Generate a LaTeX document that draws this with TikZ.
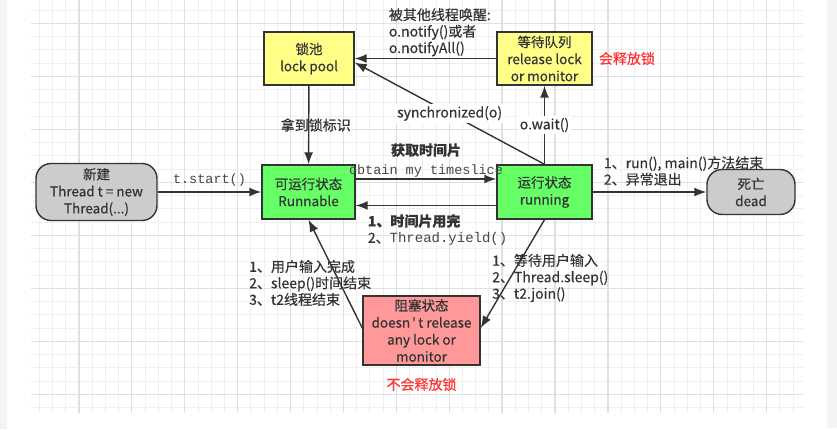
\documentclass[tikz,border=0pt]{standalone}
\usepackage{fontspec}
\setmainfont{Noto Sans CJK SC}[FakeBold=0.4]
\setmonofont{Liberation Mono}
\usetikzlibrary{arrows.meta,positioning}
\definecolor{inkgray}{RGB}{51,51,51}
\definecolor{codegray}{RGB}{70,70,70}
\definecolor{poolyellow}{RGB}{255,255,136}
\definecolor{rungreen}{RGB}{102,255,102}
\definecolor{blockred}{RGB}{255,153,153}
\definecolor{endgray}{RGB}{204,204,204}
\definecolor{notered}{RGB}{255,51,51}
\definecolor{stripgray}{RGB}{243,244,246}

\begin{document}
\begin{tikzpicture}[
  x=1pt, y=1pt,
  state/.style={
    rectangle, draw=inkgray, line width=1.4pt, text=inkgray,
    align=center, inner sep=2pt,
    minimum height=53pt,
    font=\fontsize{13.5}{17}\selectfont
  },
  poolbox/.style={state, fill=poolyellow},
  runbox/.style={state, fill=rungreen, minimum height=54pt},
  endbox/.style={state, fill=endgray, rounded corners=15pt},
  flow/.style={-{Latex[length=12pt,width=9pt]}, line width=1.4pt, draw=inkgray},
  note/.style={align=left, text=inkgray, inner sep=0pt,
    font=\fontsize{14}{16.5}\selectfont},
  codenote/.style={note, text=codegray, font=\fontsize{13.5}{17}\selectfont\ttfamily},
  rednote/.style={note, text=notered},
  minorgrid/.style={draw={rgb,255:red,239;green,239;blue,239}, line width=0.8pt},
  majorgrid/.style={draw={rgb,255:red,224;green,224;blue,224}, line width=1.3pt}
]
  % page and grid
  \useasboundingbox (0,0) rectangle (837,429);
  \fill[white] (0,0) rectangle (837,429);
  \fill[stripgray] (0,0) rectangle (7,429);
  \fill[stripgray] (827,1) rectangle (837,429);
  \begin{scope}
    \clip (31,17) rectangle (803,429);
    \begin{scope}[shift={(26,-18.3)}]
      \draw[minorgrid] (0,0) grid[xstep=13.225, ystep=13.25] (800,470);
      \draw[majorgrid] (0,0) grid[xstep=52.9, ystep=53] (800,470);
    \end{scope}
  \end{scope}

  % states
  \node[poolbox, minimum width=90pt] (lockpool) at (309,370.5) {锁池\\lock pool};
  \node[poolbox, minimum width=95pt] (waitqueue) at (544.5,370.5)
    {等待队列\\release lock\\or monitor};
  \node[endbox, minimum width=121pt, minimum height=57pt] (newthread) at (96.5,237)
    {新建\\Thread t = new\\Thread(...)};
  \node[runbox, minimum width=93pt] (runnable) at (308.5,237) {可运行状态\\Runnable};
  \node[runbox, minimum width=95pt] (running) at (544.5,237) {运行状态\\running};
  \node[endbox, minimum width=88pt, minimum height=45pt] (dead) at (751,237) {死亡\\dead};
  \node[state, fill=blockred, minimum width=117pt, minimum height=69pt] (blocked) at (421.5,98.5)
    {阻塞状态\\doesn{\ttfamily '}t release\\any lock or\\monitor};

  % transitions
  \draw[flow] (waitqueue) -- (lockpool);
  \node[note, anchor=south west] (wakeup) at ([xshift=34pt,yshift=2pt]lockpool.east)
    {被其他线程唤醒:\\o.notify()或者\\o.notifyAll()};
  \draw[flow] (running.north) -- node[note, fill=white, inner sep=2pt] {synchronized(o)}
    ([yshift=-4pt]lockpool.east);
  \draw[flow] (running) -- node[note, fill=white, inner sep=2pt] {o.wait()} (waitqueue);
  \draw[flow] (lockpool) -- node[note, xshift=7pt] {拿到锁标识} (runnable);
  \draw[flow] (newthread) -- node[codenote, above=5pt] {t.start()} (runnable);

  \draw[flow] ([yshift=13pt]runnable.east) -- node[codenote, above=1pt] (timeslice)
    {obtain my timeslice} ([yshift=13pt]running.west);
  \node[note, font=\fontsize{14}{17}\selectfont\bfseries, above=7pt of timeslice] (gettime) {获取时间片};
  \draw[flow] ([yshift=-13.5pt]running.west) -- ([yshift=-13.5pt]runnable.east);
  \node[note, anchor=north west] (yieldnote) at ([xshift=12pt,yshift=-22pt]runnable.east)
    {\bfseries 1、时间片用完\\2、{\ttfamily\color{codegray}Thread.yield()}};

  \draw[flow] (running) -- (dead);
  \node[note, anchor=south west] (endnote) at ([xshift=11pt,yshift=6pt]running.east)
    {1、run(), main()方法结束\\2、异常退出};

  \draw[flow] (running.south) -- ([yshift=2.5pt]blocked.east);
  \node[note, anchor=north west] (waitnote) at ([xshift=-52.5pt,yshift=-34pt]running.south)
    {1、等待用户输入\\2、Thread.sleep()\\3、t2.join()};
  \draw[flow] ([yshift=2.5pt]blocked.west) -- (runnable.south);
  \node[note, anchor=north west] (wakenote) at ([xshift=-59.5pt,yshift=-40pt]runnable.south)
    {1、用户输入完成\\2、sleep()时间结束\\3、t2线程结束};

  % lock notes
  \node[rednote, right=6pt of waitqueue] (releasenote) {会释放锁};
  \node[rednote, below=12pt of blocked] (keepnote) {不会释放锁};
\end{tikzpicture}
\end{document}
